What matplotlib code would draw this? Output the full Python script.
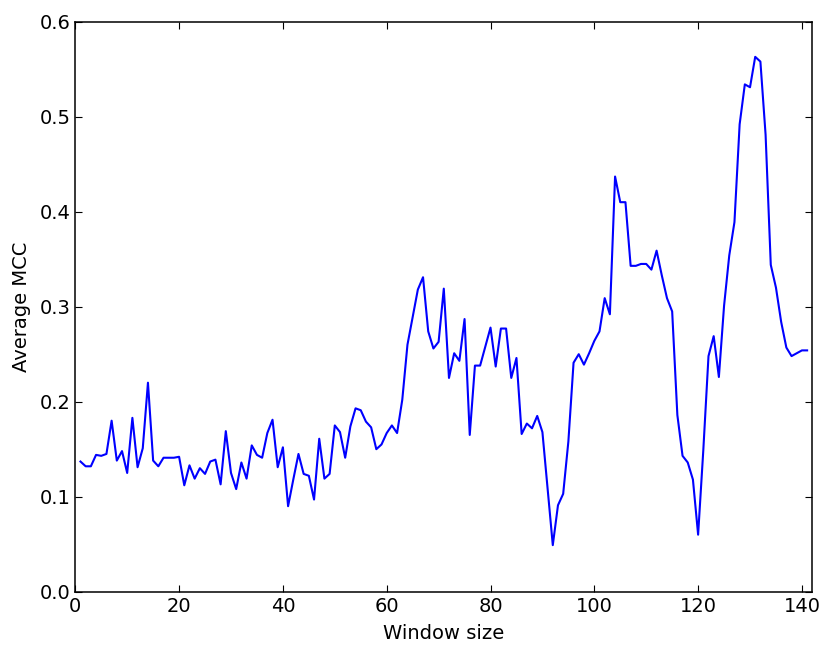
import matplotlib
matplotlib.use('Agg')
import matplotlib.pyplot as plt

# Data: average MCC per window size (1..141)
window_sizes = list(range(1, 142))
avg_mcc = [
    0.137, 0.132, 0.132, 0.144, 0.143, 0.145, 0.180, 0.138, 0.148, 0.125,
    0.183, 0.131, 0.151, 0.220, 0.138, 0.132, 0.141, 0.141, 0.141, 0.142,
    0.112, 0.133, 0.119, 0.130, 0.124, 0.137, 0.139, 0.113, 0.169, 0.125,
    0.108, 0.136, 0.119, 0.154, 0.144, 0.141, 0.167, 0.181, 0.131, 0.152,
    0.090, 0.118, 0.145, 0.124, 0.122, 0.097, 0.161, 0.119, 0.124, 0.175,
    0.168, 0.141, 0.174, 0.193, 0.191, 0.179, 0.173, 0.150, 0.155, 0.167,
    0.175, 0.167, 0.202, 0.260, 0.289, 0.318, 0.331, 0.274, 0.256, 0.263,
    0.319, 0.225, 0.251, 0.243, 0.287, 0.165, 0.238, 0.238, 0.258, 0.278,
    0.237, 0.277, 0.277, 0.225, 0.246, 0.166, 0.177, 0.172, 0.185, 0.168,
    0.109, 0.049, 0.091, 0.103, 0.158, 0.241, 0.250, 0.239, 0.251, 0.264,
    0.274, 0.309, 0.292, 0.437, 0.410, 0.410, 0.343, 0.343, 0.345, 0.345,
    0.339, 0.359, 0.333, 0.309, 0.295, 0.186, 0.143, 0.136, 0.118, 0.060,
    0.149, 0.248, 0.269, 0.226, 0.301, 0.354, 0.389, 0.492, 0.534, 0.531,
    0.563, 0.558, 0.481, 0.344, 0.320, 0.284, 0.257, 0.248, 0.251, 0.254,
    0.254,
]

fig = plt.figure(figsize=(8.31, 6.57), dpi=100)
ax = fig.add_axes([0.0906, 0.0994, 0.8869, 0.8676])

ax.plot(window_sizes, avg_mcc, color='blue', linewidth=1.5)

ax.set_xlim(0, 142)
ax.set_ylim(0.0, 0.6)
ax.set_xticks(range(0, 141, 20))
ax.set_yticks([0.0, 0.1, 0.2, 0.3, 0.4, 0.5, 0.6])

ax.tick_params(direction='in', top=True, right=True, length=5, labelsize=14)
ax.set_xlabel('Window size', fontsize=14, labelpad=6)
ax.set_ylabel('Average MCC', fontsize=14, labelpad=6)

for spine in ax.spines.values():
    spine.set_linewidth(1.1)

fig.savefig('out.png', dpi=100)
